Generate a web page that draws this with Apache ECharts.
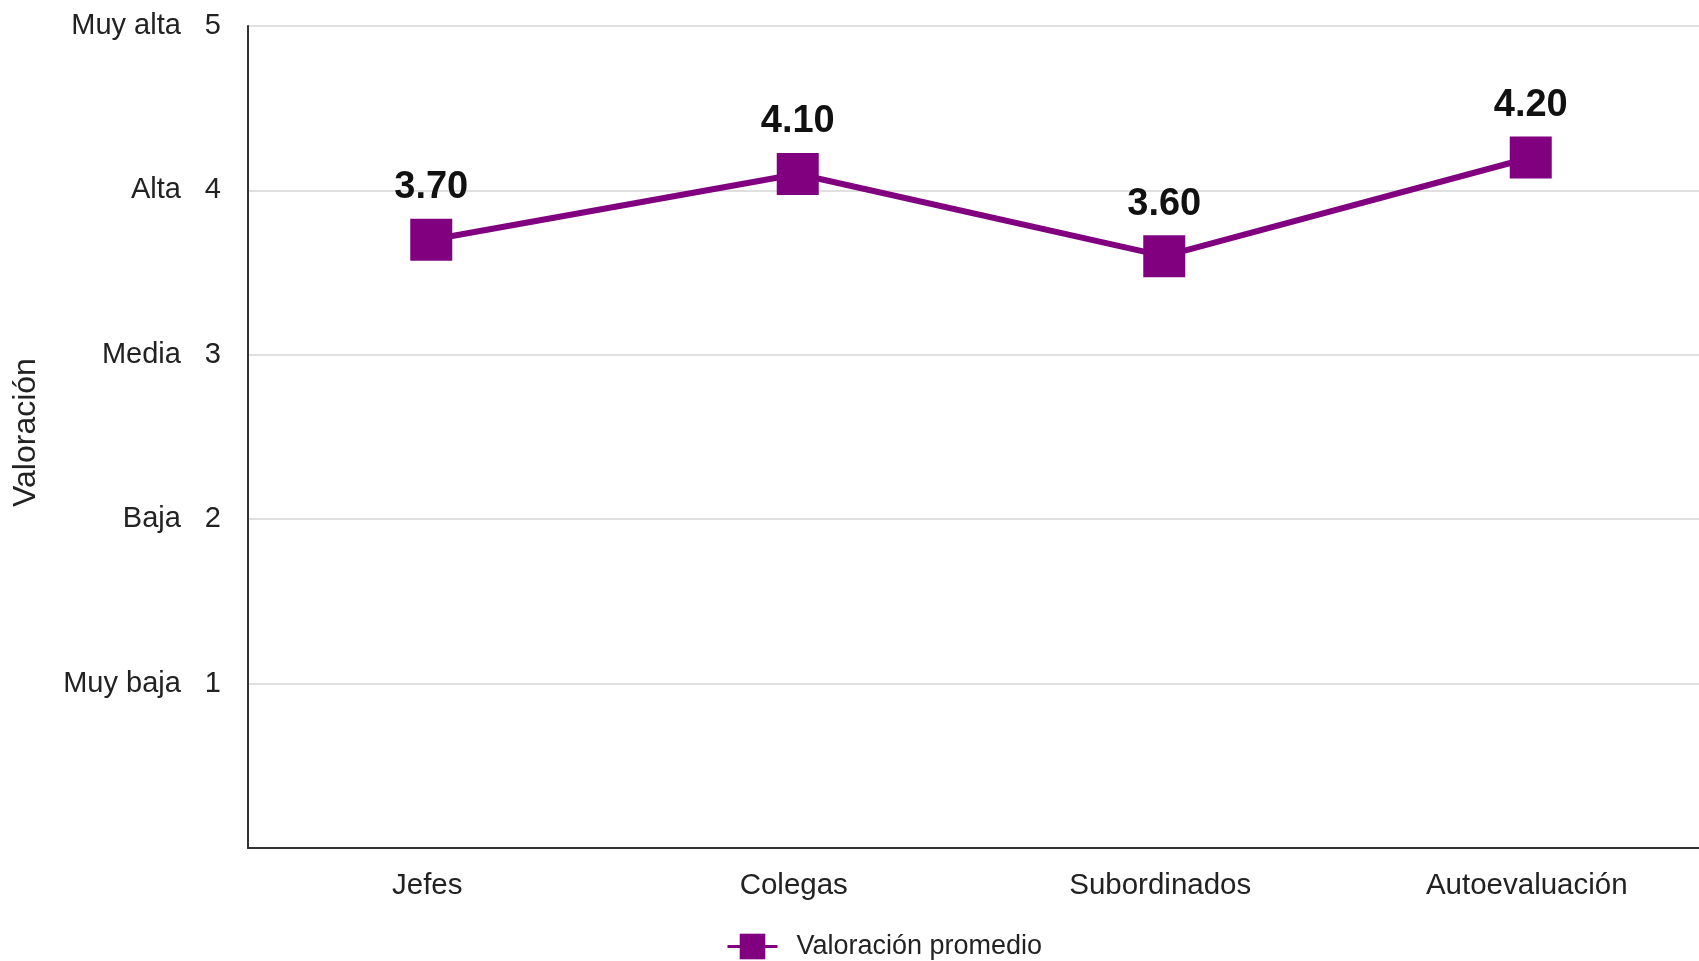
<!DOCTYPE html>
<html>
<head>
<meta charset="utf-8">
<title>Valoración promedio</title>
<script src="https://cdn.jsdelivr.net/npm/echarts@6/dist/echarts.min.js"></script>
<style>
  html, body { margin: 0; padding: 0; background: #ffffff; overflow: hidden; }
  /* the plot area runs a little past the right edge of the page */
  #chart { width: 1714px; height: 961px; }
</style>
</head>
<body>
<div id="chart"></div>
<script>
// Evaluator groups along the x axis
const categorias = ['Jefes', 'Colegas', 'Subordinados', 'Autoevaluación'];
// Average rating per group
const valoracionPromedio = [3.70, 4.10, 3.60, 4.20];
// Verbal names of the rating scale, indexed by value 0..5
const nivelesEscala = ['', 'Muy baja', 'Baja', 'Media', 'Alta', 'Muy alta'];

const FONT = '"Liberation Sans", Arial, Helvetica, sans-serif';
const PURPURA = '#800080';

const chart = echarts.init(document.getElementById('chart'), null, { renderer: 'canvas' });

chart.setOption({
  backgroundColor: '#ffffff',
  animation: false,
  textStyle: { fontFamily: FONT },
  grid: {
    left: 248,
    top: 26,
    bottom: 113,
    right: 0,
    containLabel: false
  },
  legend: {
    data: ['Valoración promedio'],
    left: 721,
    top: 928,
    itemWidth: 50,
    itemHeight: 32,
    lineStyle: { width: 3 },
    textStyle: {
      fontFamily: FONT,
      fontSize: 27,
      color: '#222222',
      padding: [0, 0, 0, 14]
    }
  },
  xAxis: {
    type: 'category',
    data: categorias,
    boundaryGap: true,
    axisLine: { show: true, lineStyle: { color: '#333333', width: 2 } },
    axisTick: { show: false },
    splitLine: { show: false },
    axisLabel: {
      fontFamily: FONT,
      fontSize: 29.5,
      color: '#222222',
      margin: 23,
      padding: [0, 8, 0, 0]
    }
  },
  yAxis: {
    type: 'value',
    min: 0,
    max: 5,
    interval: 1,
    name: 'Valoración',
    nameLocation: 'middle',
    nameGap: 206,
    nameTextStyle: {
      fontFamily: FONT,
      fontSize: 32,
      color: '#222222',
      padding: [0, 0, 0, 9]
    },
    axisLine: { show: true, lineStyle: { color: '#333333', width: 2 } },
    axisTick: { show: false },
    splitLine: { show: true, lineStyle: { color: '#d6d6d6', width: 1.5 } },
    axisLabel: {
      margin: 27,
      formatter: function (v) {
        if (v === 0) return '';
        return '{n|' + nivelesEscala[v] + '}{v|' + v + '}';
      },
      rich: {
        n: { fontFamily: FONT, fontSize: 29, color: '#222222' },
        v: { fontFamily: FONT, fontSize: 29, color: '#222222', padding: [0, 0, 0, 24] }
      }
    }
  },
  series: [{
    name: 'Valoración promedio',
    type: 'line',
    data: valoracionPromedio,
    symbol: 'rect',
    symbolSize: 42,
    lineStyle: { color: PURPURA, width: 6 },
    itemStyle: { color: PURPURA },
    label: {
      show: true,
      position: 'top',
      distance: 12,
      fontFamily: FONT,
      fontSize: 38,
      fontWeight: 'bold',
      color: '#111111',
      formatter: function (p) { return p.value.toFixed(2); }
    },
    emphasis: { disabled: true }
  }]
});
</script>
</body>
</html>
